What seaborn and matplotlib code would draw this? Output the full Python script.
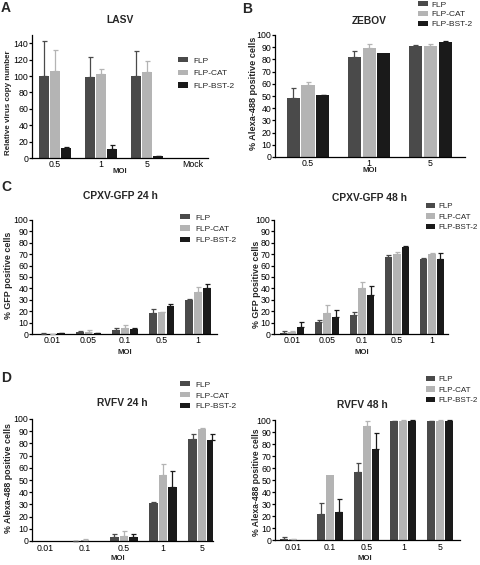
import numpy as np
import pandas as pd
import matplotlib
matplotlib.use("Agg")
import matplotlib.pyplot as plt
import seaborn as sns

# ---------------- data ----------------
groups = ["FLP", "FLP-CAT", "FLP-BST-2"]
colors = ["#4a4a4a", "#b4b4b4", "#1a1a1a"]

lasv_moi = ["0.5", "1", "5", "Mock"]
lasv_flp = [100, 99, 100, 0]
lasv_flp_err = [43, 24, 31, 0]
lasv_cat = [106, 103, 105, 0]
lasv_cat_err = [26, 6, 13, 0]
lasv_bst = [12, 11, 2, 0]
lasv_bst_err = [2, 5, 1, 0]

zebov_moi = ["0.5", "1", "5"]
zebov_flp = [48.5, 82, 91]
zebov_flp_err = [8, 5, 1.2]
zebov_cat = [59, 89, 91]
zebov_cat_err = [2.5, 4, 2]
zebov_bst = [50.5, 85, 94]
zebov_bst_err = [0.4, 0, 1]

cpxv_moi = ["0.01", "0.05", "0.1", "0.5", "1"]
cpxv24_flp = [0.3, 1.5, 3.5, 18, 29.5]
cpxv24_flp_err = [1, 1, 2, 3.5, 1]
cpxv24_cat = [0.2, 1.8, 5.5, 19, 37]
cpxv24_cat_err = [0.2, 1.5, 2, 0.5, 4]
cpxv24_bst = [0.5, 1, 4.5, 25, 40]
cpxv24_bst_err = [0.3, 0.3, 1, 1.5, 3.5]

cpxv48_flp = [1, 10.5, 17, 67.5, 66]
cpxv48_flp_err = [1.5, 2, 2.5, 1.5, 1]
cpxv48_cat = [1.5, 18, 40, 70, 70]
cpxv48_cat_err = [1, 7.5, 5.5, 2, 1]
cpxv48_bst = [6.5, 15, 34, 76, 66]
cpxv48_bst_err = [4, 6, 8, 1.5, 5]

rvfv_moi = ["0.01", "0.1", "0.5", "1", "5"]
rvfv24_flp = [0, 0.2, 3, 31, 84]
rvfv24_flp_err = [0, 0.1, 3, 0.6, 4]
rvfv24_cat = [0, 0.5, 4.5, 54, 92]
rvfv24_cat_err = [0, 1, 4, 9, 0.6]
rvfv24_bst = [0.3, 0.2, 3, 44, 83]
rvfv24_bst_err = [0, 0, 3, 13, 5]

rvfv48_flp = [1, 22, 57, 99, 99]
rvfv48_flp_err = [1.5, 8.5, 7, 0.3, 0.3]
rvfv48_cat = [0.5, 54, 95, 99.5, 99.5]
rvfv48_cat_err = [0.5, 0, 4.5, 0.2, 0.2]
rvfv48_bst = [0.2, 23.5, 75.5, 99.5, 99.5]
rvfv48_bst_err = [0, 10.5, 14, 0.2, 0.2]

# ---------------- style ----------------
sns.set_theme(style="ticks")
plt.rcParams["font.family"] = ["Liberation Sans", "DejaVu Sans"]

W, H = 480, 565
fig = plt.figure(figsize=(W / 100, H / 100), dpi=100)


def fx(px):
    return px / W


def fy(py):
    return 1 - py / H


def panel(cats, vals, errs, box, xlim, ylim, yticks, title, title_xy,
          ylabel, ylabel_xy, ylabel_fs, moi_xy, leg_xy, leg_space,
          tick_fs=6.3, xpad=1.2, leg_fs=6.0, leg_hl=1.25, leg_tp=0.6):
    l, r, t, b = box
    ax = fig.add_axes([fx(l), fy(b), fx(r - l), (b - t) / H])
    df = pd.DataFrame({
        "MOI": cats * 3,
        "grp": [g for g in groups for _ in cats],
        "val": [v for vs in vals for v in vs],
    })
    sns.barplot(data=df, x="MOI", y="val", hue="grp", order=cats,
                hue_order=groups, palette=colors, width=0.73, gap=0.12,
                saturation=1, errorbar=None, linewidth=0, ax=ax)
    for cont, col, er in zip(ax.containers, colors, errs):
        for bar, e in zip(cont, er):
            if e > 0:
                x = bar.get_x() + bar.get_width() / 2
                y = bar.get_height()
                ax.errorbar(x, y, yerr=[[0], [e]], fmt="none", ecolor=col,
                            elinewidth=0.9, capsize=1.8, capthick=0.9,
                            zorder=3, clip_on=False)
    ax.set_xlim(*xlim)
    ax.set_ylim(*ylim)
    ax.set_yticks(yticks)
    sns.despine(ax=ax)
    for s in ["left", "bottom"]:
        ax.spines[s].set_linewidth(0.9)
        ax.spines[s].set_color("black")
    ax.tick_params(axis="y", length=2.2, width=0.9, pad=0.6,
                   labelsize=tick_fs, colors="black")
    ax.tick_params(axis="x", length=0, pad=xpad, labelsize=tick_fs,
                   colors="black")
    ax.set_xlabel("MOI", fontsize=5.6, fontweight="bold")
    ax.xaxis.label.set_va("center")
    ax.xaxis.set_label_coords(fx(moi_xy[0]), fy(moi_xy[1]),
                              transform=fig.transFigure)
    ax.set_ylabel(ylabel, fontsize=ylabel_fs, fontweight="bold")
    ax.yaxis.label.set_va("center")
    ax.yaxis.set_label_coords(fx(ylabel_xy[0]), fy(ylabel_xy[1]),
                              transform=fig.transFigure)
    fig.text(fx(title_xy[0]), fy(title_xy[1]), title, fontsize=7.4,
             fontweight="bold", ha="center", va="center")
    h, lab = ax.get_legend_handles_labels()
    ax.legend(h, lab, loc="upper left",
              bbox_to_anchor=(fx(leg_xy[0]), fy(leg_xy[1])),
              bbox_transform=fig.transFigure, frameon=False, fontsize=leg_fs,
              handlelength=leg_hl, handleheight=0.6, handletextpad=leg_tp,
              labelspacing=leg_space, borderpad=0, borderaxespad=0)
    return ax


# A: LASV
panel(lasv_moi, [lasv_flp, lasv_cat, lasv_bst],
      [lasv_flp_err, lasv_cat_err, lasv_bst_err],
      box=(32, 208, 35, 158), xlim=(-0.5, 3.33), ylim=(0, 150),
      yticks=range(0, 141, 20), title="LASV", title_xy=(120, 20),
      ylabel="Relative virus copy number", ylabel_xy=(8.5, 103),
      ylabel_fs=5.8, moi_xy=(120, 172), leg_xy=(178, 57), leg_space=0.62)

# B: ZEBOV
panel(zebov_moi, [zebov_flp, zebov_cat, zebov_bst],
      [zebov_flp_err, zebov_cat_err, zebov_bst_err],
      box=(275, 465, 35, 157), xlim=(-0.54, 2.57), ylim=(0, 100),
      yticks=range(0, 101, 10), title="ZEBOV", title_xy=(369, 21),
      ylabel="% Alexa-488 positive cells", ylabel_xy=(254, 93),
      ylabel_fs=6.6, moi_xy=(370, 171), leg_xy=(418, 1), leg_space=0.28,
      leg_hl=1.15, leg_tp=0.5)

# C: CPXV 24 h
panel(cpxv_moi, [cpxv24_flp, cpxv24_cat, cpxv24_bst],
      [cpxv24_flp_err, cpxv24_cat_err, cpxv24_bst_err],
      box=(32, 217, 220, 334), xlim=(-0.55, 4.52), ylim=(0, 100),
      yticks=range(0, 101, 10), title="CPXV-GFP 24 h", title_xy=(120, 196),
      ylabel="% GFP positive cells", ylabel_xy=(8.5, 275),
      ylabel_fs=6.4, moi_xy=(125, 352), leg_xy=(180, 214), leg_space=0.45)

# C: CPXV 48 h
panel(cpxv_moi, [cpxv48_flp, cpxv48_cat, cpxv48_bst],
      [cpxv48_flp_err, cpxv48_cat_err, cpxv48_bst_err],
      box=(274, 448, 220, 334), xlim=(-0.52, 4.46), ylim=(0, 100),
      yticks=range(0, 101, 10), title="CPXV-GFP 48 h", title_xy=(370, 198),
      ylabel="% GFP positive cells", ylabel_xy=(256.5, 284),
      ylabel_fs=6.4, moi_xy=(362, 353), leg_xy=(426, 203), leg_space=0.38,
      leg_fs=5.8, leg_hl=1.1, leg_tp=0.4)

# D: RVFV 24 h
panel(rvfv_moi, [rvfv24_flp, rvfv24_cat, rvfv24_bst],
      [rvfv24_flp_err, rvfv24_cat_err, rvfv24_bst_err],
      box=(32, 213, 419, 541), xlim=(-0.35, 4.28), ylim=(0, 100),
      yticks=range(0, 101, 10), title="RVFV 24 h", title_xy=(122, 403),
      ylabel="% Alexa-488 positive cells", ylabel_xy=(9, 478),
      ylabel_fs=6.4, moi_xy=(118, 558), leg_xy=(180, 381), leg_space=0.4,
      xpad=2.2)

# D: RVFV 48 h
panel(rvfv_moi, [rvfv48_flp, rvfv48_cat, rvfv48_bst],
      [rvfv48_flp_err, rvfv48_cat_err, rvfv48_bst_err],
      box=(275, 460, 420, 540), xlim=(-0.49, 4.54), ylim=(0, 100),
      yticks=range(0, 101, 10), title="RVFV 48 h", title_xy=(362, 405),
      ylabel="% Alexa-488 positive cells", ylabel_xy=(256.5, 482),
      ylabel_fs=6.2, moi_xy=(365, 558), leg_xy=(426, 376), leg_space=0.38,
      xpad=2.2, leg_fs=5.8, leg_hl=1.1, leg_tp=0.4)

# panel letters
for letter, x, y in [("A", 6, 8), ("B", 247, 9), ("C", 6, 187), ("D", 6, 378)]:
    fig.text(fx(x), fy(y), letter, fontsize=10, fontweight="bold",
             ha="center", va="center")

fig.savefig("out.png", dpi=100)
